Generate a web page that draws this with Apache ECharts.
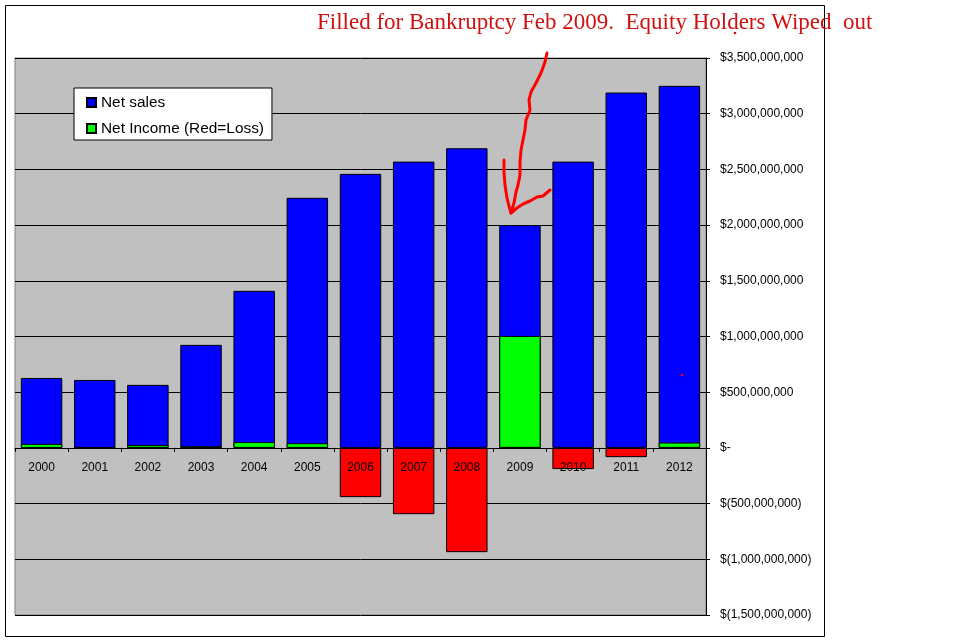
<!DOCTYPE html>
<html>
<head>
<meta charset="utf-8">
<script src="https://cdn.jsdelivr.net/npm/echarts@6/dist/echarts.min.js"></script>
<style>
html,body{margin:0;padding:0;background:#fff;}
#chart{width:975px;height:642px;}
</style>
</head>
<body>
<div id="chart"></div>
<script>
var years = ['2000','2001','2002','2003','2004','2005','2006','2007','2008','2009','2010','2011','2012'];
var netSales = [628e6, 610e6, 566e6, 925e6, 1410e6, 2245e6, 2460e6, 2570e6, 2690e6, 2000e6, 2570e6, 3190e6, 3250e6];
var netIncome = [36e6, 4e6, 25e6, 15e6, 52e6, 42e6, -442e6, -595e6, -936e6, 1005e6, -190e6, -83e6, 48e6];
var yTicks = {min: -1.5e9, max: 3.5e9, interval: 5e8};
var annotation = 'Filled for Bankruptcy Feb 2009.  Equity Holders Wiped  out';

function fmtMoney(v) {
  if (v === 0) return '$-';
  var s = Math.abs(v).toString().replace(/\B(?=(\d{3})+(?!\d))/g, ',');
  return v < 0 ? '$(' + s + ')' : '$' + s;
}

var gridTop = 58, gridBottom = 27, H = 642;
var plotH = H - gridTop - gridBottom;
// distance of the zero line above the grid bottom, from the axis range
var zeroOffset = plotH * (0 - yTicks.min) / (yTicks.max - yTicks.min);

var chart = echarts.init(document.getElementById('chart'), null, {renderer: 'canvas'});
var font = 'Arial, "Liberation Sans", sans-serif';

var option = {
  animation: false,
  backgroundColor: '#ffffff',
  textStyle: {fontFamily: font},
  grid: {
    left: 15, right: 269, top: gridTop, bottom: gridBottom,
    show: true, backgroundColor: '#C0C0C0', borderColor: '#808080', borderWidth: 1
  },
  legend: {
    orient: 'vertical',
    left: 74, top: 88,
    backgroundColor: '#ffffff',
    borderColor: '#000000', borderWidth: 1,
    padding: [7, 8, 4, 12],
    itemWidth: 9, itemHeight: 9, itemGap: 11,
    icon: 'rect',
    textStyle: {fontFamily: font, fontSize: 15.4, color: '#000'},
    data: ['Net sales', 'Net Income (Red=Loss)']
  },
  xAxis: {
    type: 'category',
    data: years,
    z: 10,
    position: 'bottom',
    offset: -zeroOffset,
    axisLine: {onZero: false, lineStyle: {color: '#000', width: 1}},
    axisTick: {show: true, length: 4, interval: 0, alignWithLabel: false, lineStyle: {color: '#000'}},
    axisLabel: {fontFamily: font, fontSize: 12, color: '#000', margin: 14, interval: 0},
    splitLine: {show: false}
  },
  yAxis: {
    type: 'value',
    position: 'right',
    min: yTicks.min, max: yTicks.max, interval: yTicks.interval,
    axisLine: {show: true, lineStyle: {color: '#000', width: 1}},
    axisTick: {show: true, length: 4, lineStyle: {color: '#000'}},
    axisLabel: {fontFamily: font, fontSize: 12, color: '#000', margin: 14, formatter: fmtMoney},
    splitLine: {show: true, lineStyle: {color: '#000', width: 1}}
  },
  series: [
    {
      name: 'Net sales',
      type: 'bar',
      data: netSales,
      barCategoryGap: '22%',
      barGap: '-100%',
      itemStyle: {color: '#0000FF', borderColor: '#000', borderWidth: 1}
    },
    {
      name: 'Net Income (Red=Loss)',
      type: 'bar',
      barGap: '-100%',
      data: netIncome.map(function (v) {
        return v < 0 ? {value: v, itemStyle: {color: '#FF0000'}} : {value: v};
      }),
      itemStyle: {color: '#00FF00', borderColor: '#000', borderWidth: 1}
    }
  ],
  graphic: [
    {type: 'rect', shape: {x: 5.5, y: 5.5, width: 819, height: 631}, style: {fill: 'none', stroke: '#000', lineWidth: 1}, silent: true, z: 100},
    {type: 'text', left: 317, top: 11, style: {text: annotation, fill: '#D01010', font: '23px "Liberation Serif", "DejaVu Serif", serif'}, z: 100},
    {type: 'polyline', shape: {points: [[547,53],[545,62],[541,73],[536,83],[531,92],[529,100],[530,110],[526,120],[525,130],[523,140],[521,150],[520,162],[520,175],[518,185],[516,192],[514,203],[511,213]]}, style: {stroke: '#FF0000', lineWidth: 3, fill: null, lineCap: 'round', lineJoin: 'round'}, z: 100},
    {type: 'polyline', shape: {points: [[504,160],[504,172],[505,185],[507,198],[509,206],[511,213],[517,208],[523,204],[530,201],[537,197],[543,196],[550,190]]}, style: {stroke: '#FF0000', lineWidth: 3, fill: null, lineCap: 'round', lineJoin: 'round'}, z: 100},
    {type: 'circle', shape: {cx: 682, cy: 375, r: 1.3}, style: {fill: '#FF0000'}, z: 100},
    {type: 'circle', shape: {cx: 735, cy: 33, r: 1.3}, style: {fill: '#C01010'}, z: 100}
  ]
};
chart.setOption(option);
</script>
</body>
</html>
